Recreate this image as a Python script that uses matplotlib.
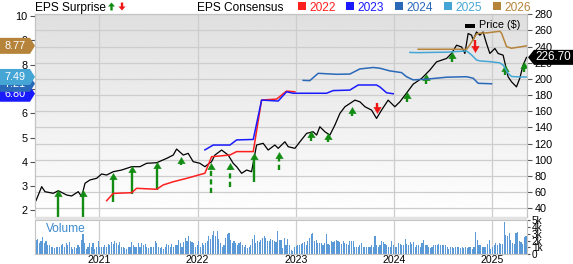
import matplotlib
matplotlib.use("Agg")
import matplotlib.pyplot as plt
import numpy as np
from matplotlib.patches import Polygon, Rectangle
from matplotlib.transforms import IdentityTransform

plt.rcParams['font.family'] = ['Liberation Sans', 'DejaVu Sans']

# ---- data ----
years = [2021, 2022, 2023, 2024, 2025]

price_x = [2020.356, 2020.414, 2020.448, 2020.532, 2020.583, 2020.668, 2020.719, 2020.786, 2020.821, 2020.855,
           2020.905, 2020.974, 2021.024, 2021.075, 2021.142, 2021.228, 2021.330, 2021.414, 2021.482, 2021.584,
           2021.686, 2021.753, 2021.787, 2021.855, 2021.905, 2021.956, 2022.024, 2022.075, 2022.143, 2022.177,
           2022.245, 2022.312, 2022.363, 2022.398, 2022.449, 2022.500, 2022.550, 2022.601, 2022.668, 2022.719,
           2022.787, 2022.821, 2022.889, 2022.923, 2022.991, 2023.042, 2023.110, 2023.177, 2023.212, 2023.245,
           2023.296, 2023.347, 2023.398, 2023.449, 2023.500, 2023.551, 2023.602, 2023.653, 2023.704, 2023.771,
           2023.822, 2023.873, 2023.940, 2024.008, 2024.059, 2024.127, 2024.195, 2024.280, 2024.364, 2024.432,
           2024.483, 2024.534, 2024.585, 2024.636, 2024.687, 2024.721, 2024.754, 2024.789, 2024.805, 2024.839,
           2024.873, 2024.906, 2024.941, 2024.975, 2025.026, 2025.059, 2025.110, 2025.161, 2025.196, 2025.246,
           2025.280, 2025.313, 2025.348]
price = [49.5, 66.8, 60.6, 58.6, 61.8, 56.5, 55.3, 60.6, 54.4, 71.0,
         75.1, 77.2, 82.5, 81.2, 85.3, 87.4, 91.5, 91.5, 95.7, 96.4,
         101.8, 105.9, 113.3, 105.9, 108.0, 97.7, 95.7, 91.5, 97.7, 105.9,
         112.1, 105.9, 95.7, 91.5, 83.3, 87.4, 85.3, 118.3, 120.4, 112.1,
         118.3, 114.2, 122.3, 116.2, 114.2, 122.3, 132.7, 134.7, 130.6, 140.9,
         134.7, 130.6, 143.0, 157.4, 165.6, 169.7, 173.8, 171.7, 165.6, 161.5,
         151.2, 161.5, 173.8, 165.6, 171.7, 182.5, 193.6, 200.6, 210.9, 221.1,
         223.2, 225.3, 231.5, 241.7, 239.6, 231.5, 256.2, 254.1, 248.0, 258.1,
         254.1, 258.1, 243.8, 231.5, 237.7, 231.5, 229.4, 202.6, 196.4, 190.2,
         201.0, 217.0, 226.7]
last_price = 226.70

eps22_x = [2021.075, 2021.142, 2021.330, 2021.380, 2021.584, 2021.651, 2021.753, 2021.889, 2022.075,
           2022.143, 2022.330, 2022.398, 2022.567, 2022.652, 2022.805, 2022.906, 2022.991]
eps22 = [2.40, 2.70, 2.73, 2.91, 2.87, 3.05, 3.18, 3.32, 3.53, 4.21, 4.28, 4.42, 4.42, 6.54, 6.58, 6.91, 6.88]
eps23_x = [2022.075, 2022.160, 2022.330, 2022.398, 2022.567, 2022.652, 2022.821, 2022.906, 2022.974,
           2023.313, 2023.380, 2023.550, 2023.635, 2023.822, 2023.856, 2023.924, 2023.991]
eps23 = [4.49, 4.69, 4.69, 4.90, 4.92, 6.54, 6.50, 6.88, 6.82, 6.82, 6.93, 6.95, 7.16, 7.16, 7.08, 6.84, 6.80]
eps24_x = [2023.075, 2023.143, 2023.228, 2023.415, 2023.550, 2023.652, 2023.787, 2023.856, 2023.957,
           2024.076, 2024.127, 2024.194, 2024.331, 2024.534, 2024.738, 2024.805, 2024.856, 2024.992]
eps24 = [7.35, 7.34, 7.64, 7.60, 7.61, 7.82, 7.88, 7.85, 7.74, 7.67, 7.50, 7.37, 7.40, 7.48, 7.50, 7.44, 7.23, 7.21]
eps25_x = [2024.161, 2024.229, 2024.534, 2024.738, 2024.788, 2024.839, 2024.873, 2024.975, 2025.076,
           2025.110, 2025.161, 2025.195, 2025.280, 2025.348]
eps25 = [8.50, 8.49, 8.51, 8.56, 8.40, 8.19, 8.15, 8.12, 8.07, 7.98, 7.64, 7.51, 7.49, 7.49]
eps26_x = [2024.245, 2024.738, 2024.771, 2024.839, 2024.873, 2024.957, 2025.076, 2025.094, 2025.145,
           2025.195, 2025.348]
eps26 = [8.63, 8.63, 8.81, 9.26, 9.29, 9.31, 9.37, 9.29, 8.74, 8.67, 8.77]

eps_labels = ['2022', '2023', '2024', '2025', '2026']
eps_final = [None, '6.80', '7.21', '7.49', '8.77']
eps_colors = ['#ff1f1f', '#1a1aff', '#2a68b8', '#45a6d6', '#b5843a']

# earnings surprise arrows: date, arrow tip price, arrow tail price
surp_x = [2020.583, 2020.837, 2021.142, 2021.330, 2021.584, 2021.831, 2022.136, 2022.330, 2022.577, 2022.828,
          2023.151, 2023.330, 2023.576, 2023.825, 2024.130, 2024.324, 2024.588, 2024.827, 2025.127, 2025.323]
surp_tip = [62.7, 62.7, 84.1, 92.3, 97.7, 103.8, 95.7, 95.7, 108.0, 110.0,
            135.6, 133.1, 165.2, 157.8, 184.1, 205.9, 233.1, 233.1, 217.0, 220.7]
surp_tail = [28.1, 28.1, 48.3, 57.4, 62.7, 93.6, 59.4, 66.0, 73.0, 87.4,
             123.2, 122.0, 154.1, 170.1, 171.7, 193.6, 220.7, 247.9, 204.7, 208.4]
surp_beat = [True] * 13 + [False] + [True] * 3 + [False] + [True] * 2
surp_dashed = [False] * 5 + [True, True, True, False, True] + [False] * 10

# weekly volume, thousands
vol_a = [2.1, 2.3, 1.6, 1.9, 2.5, 1.6, 2.0, 1.4, 1.3, 1.1, 1.0, 0.9, 1.1, 1.0, 1.1, 1.4, 1.5, 1.1, 1.6, 1.4,
         1.8, 1.0, 0.8, 1.1, 0.9, 1.4, 1.1, 2.1, 3.0, 1.6, 0.7, 1.1, 1.6, 1.0, 1.6, 0.8, 1.1, 1.9, 1.0, 1.1,
         1.1, 1.4, 1.1, 1.5, 1.4, 1.8, 1.5, 2.0, 1.6, 1.4, 1.8, 1.1, 1.0, 0.9, 0.8, 1.0, 1.1, 1.8, 1.4, 1.1,
         1.0, 1.6, 1.0, 1.6, 1.4, 1.5, 1.1, 0.9, 1.1, 1.0, 1.1, 2.0, 1.6, 1.1, 0.9, 1.0, 0.8, 1.1, 1.5, 1.4,
         1.1, 1.5, 1.1, 1.3, 1.4, 2.1, 1.6, 1.1, 1.8, 2.4, 1.9, 2.6, 1.9, 1.8, 1.6, 1.1, 1.4, 1.9, 1.1, 1.6,
         1.4, 1.6, 2.0, 2.6, 2.3, 2.8, 3.4, 2.6, 3.4, 2.3, 1.6, 1.1, 1.4, 2.4, 2.9, 3.1, 2.1, 1.6, 2.0, 1.6,
         1.4, 1.6, 1.8, 1.4, 1.1, 1.3, 0.9, 1.0, 1.4, 2.3, 2.8, 1.6, 2.0, 1.8, 2.1, 2.4, 2.6, 2.4, 2.0, 1.9,
         2.3, 2.1, 2.0, 1.8]
vol_b = [3.4, 2.1, 2.1, 0.9, 2.4, 1.4, 2.3, 1.4, 0.6, 0.5, 1.1, 1.2, 1.4, 1.4, 1.5, 1.6, 1.8, 1.4, 1.9, 2.4,
         2.9, 3.1, 1.9, 2.1, 1.6, 1.6, 1.6, 1.4, 1.6, 2.9, 1.5, 1.3, 2.0, 1.8, 2.0, 2.1, 2.0, 1.8, 1.5, 1.9,
         1.6, 1.5, 1.4, 2.0, 2.0, 1.9, 1.1, 1.0, 1.1, 1.4, 1.6, 1.0, 1.0, 1.0, 1.0, 1.1, 1.3, 1.1, 2.6, 1.3,
         1.1, 1.3, 2.0, 1.8, 1.5, 1.3, 1.0, 1.1, 2.0, 1.4, 1.0, 1.1, 1.6, 1.5, 1.4, 1.3, 2.3, 1.5, 1.4, 1.8,
         1.5, 1.8, 1.1, 1.4, 1.3, 1.1, 1.6, 2.1, 1.4, 1.4, 1.1, 0.9, 1.0, 1.4, 1.3, 1.4, 1.5, 1.3, 1.4, 1.3,
         1.4, 1.0, 0.8, 1.1, 1.0, 0.9, 1.0, 1.0, 1.0, 0.9, 1.0, 0.9, 1.0, 0.9, 1.0, 1.1, 0.8, 1.0, 3.3, 2.1,
         1.4, 1.3, 1.1, 1.0, 1.1, 1.5, 2.1, 0.8, 1.0, 1.3, 1.6, 1.4, 1.6, 1.5, 1.5, 4.8, 2.8, 2.7, 3.1, 2.1,
         1.6, 1.5, 3.1, 3.2, 2.0, 1.8, 1.5, 2.5, 2.6]
volume = vol_a + vol_b
vol_start, vol_end = 2020.356, 2025.343

# ---- figure ----
W, H = 573, 264
fig = plt.figure(figsize=(W / 100, H / 100), dpi=100)


def fx(px):
    return px / W


def fy(py):
    return 1 - py / H


grid_c = '#cdcdcd'
spine_c = '#c4c4c4'
x_lo, x_hi = 2020.346, 2025.353

ax_p = fig.add_axes([fx(35), fy(217), fx(527) - fx(35), fy(14) - fy(217)])
ax_v = fig.add_axes([fx(35), fy(254), fx(527) - fx(35), fy(220) - fy(254)])
ax_e = ax_p.twinx()

# background gradient
ax_p.imshow(np.linspace(0.875, 1.0, 256)[:, None], cmap='gray', vmin=0, vmax=1, aspect='auto',
            extent=[0, 1, 0, 1], transform=ax_p.transAxes, zorder=0)
ax_p.set_axisbelow(True)
ax_p.grid(True, color=grid_c, lw=0.9, zorder=0.5)

ax_p.plot(price_x, price, color='black', lw=0.9, zorder=3)

# surprise arrows
up_head = [(0, 0), (-0.6, -1), (0.6, -1), (0, 0)]
dn_head = [(0, 0), (-0.6, 1), (0.6, 1), (0, 0)]
for x, tip, tail, beat, dashed in zip(surp_x, surp_tip, surp_tail, surp_beat, surp_dashed):
    col = '#138c13' if beat else '#f01515'
    ls = (0, (2.2, 1.4)) if dashed else '-'
    stem_end = tip - 5 if beat else tip + 5
    ax_p.plot([x, x], [tail, stem_end], color=col, lw=1.7, ls=ls, zorder=4, solid_capstyle='butt')
    ax_p.plot([x], [tip], marker=up_head if beat else dn_head, ms=9, color=col, mec=col, mew=0.3, zorder=5)

ax_p.set_xlim(x_lo, x_hi)
ax_p.set_ylim(29.3, 280.3)
ax_p.set_xticks(years)
ax_p.set_yticks(range(40, 281, 20))
ax_p.yaxis.tick_right()
ax_p.tick_params(axis='x', length=0, labelbottom=False)
ax_p.tick_params(axis='y', labelsize=7.8, length=3.5, width=0.8, color='#555555', pad=2)
for s in ax_p.spines.values():
    s.set_color(spine_c)
    s.set_linewidth(0.8)

for xs, ys, c in zip([eps22_x, eps23_x, eps24_x, eps25_x, eps26_x], [eps22, eps23, eps24, eps25, eps26], eps_colors):
    ax_e.plot(xs, ys, color=c, lw=1.1, zorder=2)
ax_e.set_xlim(x_lo, x_hi)
ax_e.set_ylim(1.73, 10.08)
ax_e.set_yticks(range(2, 11))
ax_e.yaxis.tick_left()
ax_e.tick_params(axis='x', length=0, labelbottom=False, labeltop=False)
ax_e.tick_params(axis='y', labelsize=7.8, length=3.5, width=0.8, color='#555555', pad=2)
for s in ax_e.spines.values():
    s.set_color(spine_c)
    s.set_linewidth(0.8)

# volume panel
vol_x = np.linspace(vol_start, vol_end, len(volume))
ax_v.bar(vol_x, volume, width=0.0115, color='#5b9ad6', edgecolor='none', zorder=2)
ax_v.set_xlim(x_lo, x_hi)
ax_v.set_ylim(0, 5.05)
ax_v.set_xticks(years)
ax_v.set_xticklabels([str(y) for y in years])
ax_v.set_yticks(range(6))
ax_v.set_yticklabels(['0', '1k', '2k', '3k', '4k', '5k'])
ax_v.yaxis.tick_right()
ax_v.tick_params(axis='x', length=0, labelsize=7.6, pad=0.5)
ax_v.tick_params(axis='y', labelsize=7.2, length=2, width=0.8, color='#555555', pad=1.5)
ax_v.grid(True, axis='x', color=grid_c, lw=0.9, zorder=0)
ax_v.set_axisbelow(True)
for s in ax_v.spines.values():
    s.set_color(spine_c)
    s.set_linewidth(0.8)
ax_v.text(fx(45.5), fy(229.5), 'Volume', transform=fig.transFigure, fontsize=8.6, color='#3c8bd0',
          ha='left', va='center')

# separator band between panels
fig.patches.append(Rectangle((fx(35), fy(220)), fx(527) - fx(35), fy(217) - fy(220),
                             transform=fig.transFigure, fc='#e2e2e2', ec='none', figure=fig))

# ---- value tags ----
fig.canvas.draw()
ident = IdentityTransform()


def tag(x0, x1, yc, color, text, point_right, z, hh=8, fs=7.8):
    if point_right:
        pts = [(x0, yc - hh), (x1 - 5, yc - hh), (x1, yc), (x1 - 5, yc + hh), (x0, yc + hh)]
        tx = (x0 + x1 - 5) / 2
    else:
        pts = [(x0 + 6, yc - hh), (x1, yc - hh), (x1, yc + hh), (x0 + 6, yc + hh), (x0, yc)]
        tx = (x0 + 6 + x1) / 2
    fig.patches.append(Polygon(pts, closed=True, fc=color, ec='none', transform=ident, figure=fig, zorder=z))
    fig.texts.append(plt.Text(tx, yc, text, transform=ident, color='white', ha='center', va='center',
                              fontsize=fs, figure=fig, zorder=z + 0.5))


eps_last = [eps23[-1], eps24[-1], eps25[-1], eps26[-1]]
for i, (v, lab, c) in enumerate(zip(eps_last, eps_final[1:], eps_colors[1:])):
    yc = ax_e.transData.transform((x_lo, v))[1]
    tag(0, 35, yc, c, lab, True, 20 + i)

yc = ax_p.transData.transform((x_hi, last_price))[1]
tag(528, 573, yc, 'black', f'{last_price:.2f}', False, 30, hh=7.5, fs=8.4)

# ---- header ----
fig.text(fx(35), fy(11), 'EPS Surprise', fontsize=8.6, va='baseline', ha='left')


def small_arrow(xc, ytop, ybot, color, up):
    hw, hl, sw = 3.5, 4.0, 1.2
    if up:
        pts = [(xc, ytop), (xc + hw, ytop + hl), (xc + sw, ytop + hl), (xc + sw, ybot),
               (xc - sw, ybot), (xc - sw, ytop + hl), (xc - hw, ytop + hl)]
    else:
        pts = [(xc, ybot), (xc + hw, ybot - hl), (xc + sw, ybot - hl), (xc + sw, ytop),
               (xc - sw, ytop), (xc - sw, ybot - hl), (xc - hw, ybot - hl)]
    fig.patches.append(Polygon([(fx(a), fy(b)) for a, b in pts], closed=True, fc=color, ec='none',
                               transform=fig.transFigure, figure=fig))


small_arrow(111.5, 2.5, 10.5, '#138c13', True)
small_arrow(122, 2.5, 10.5, '#f01515', False)

fig.text(fx(197), fy(11), 'EPS Consensus', fontsize=8.6, va='baseline', ha='left')
for i, (lab, c) in enumerate(zip(eps_labels, eps_colors)):
    x0 = 297.5 + i * 48.8
    fig.patches.append(Rectangle((fx(x0), fy(9.8)), fx(8), fy(1.8) - fy(9.8), transform=fig.transFigure,
                                 fc=c, ec='none', figure=fig))
    fig.text(fx(x0 + 11.5), fy(11), lab, fontsize=8.6, va='baseline', ha='left', color=c)

# price legend inside plot
fig.patches.append(Rectangle((fx(465), fy(27.5)), fx(10), fy(23.5) - fy(27.5), transform=fig.transFigure,
                             fc='black', ec='none', figure=fig))
fig.text(fx(479), fy(25.5), 'Price ($)', fontsize=7.8, va='center', ha='left')

fig.savefig('out.png', dpi=100)
